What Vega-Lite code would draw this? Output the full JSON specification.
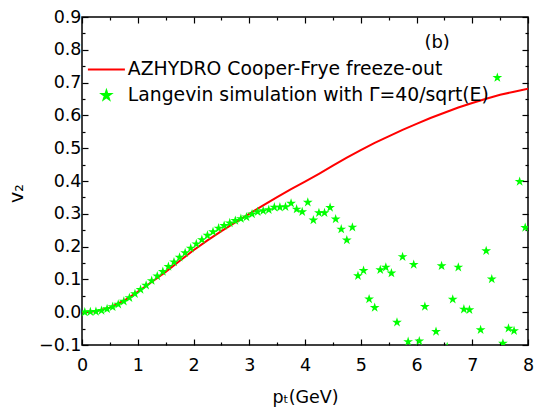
{
  "$schema": "https://vega.github.io/schema/vega-lite/v6.json",
  "width": 446,
  "height": 328,
  "autosize": {"type": "none"},
  "padding": {"left": 82, "top": 17, "right": 10, "bottom": 63},
  "background": "white",
  "config": {
    "view": {"stroke": "black", "strokeWidth": 1.5},
    "font": "DejaVu Sans",
    "axis": {"grid": false, "domain": false, "tickColor": "black", "labelColor": "black", "titleColor": "black", "labelFont": "DejaVu Sans", "titleFont": "DejaVu Sans", "titleFontWeight": "normal", "tickWidth": 1.2}
  },
  "datasets": {
    "hydro": [
      {"pt": 0, "v2": 0, "series": "AZHYDRO Cooper-Frye freeze-out"},
      {"pt": 0.25, "v2": 0.003, "series": "AZHYDRO Cooper-Frye freeze-out"},
      {"pt": 0.5, "v2": 0.014, "series": "AZHYDRO Cooper-Frye freeze-out"},
      {"pt": 0.75, "v2": 0.035, "series": "AZHYDRO Cooper-Frye freeze-out"},
      {"pt": 1, "v2": 0.062, "series": "AZHYDRO Cooper-Frye freeze-out"},
      {"pt": 1.25, "v2": 0.092, "series": "AZHYDRO Cooper-Frye freeze-out"},
      {"pt": 1.5, "v2": 0.123, "series": "AZHYDRO Cooper-Frye freeze-out"},
      {"pt": 1.75, "v2": 0.156, "series": "AZHYDRO Cooper-Frye freeze-out"},
      {"pt": 2, "v2": 0.189, "series": "AZHYDRO Cooper-Frye freeze-out"},
      {"pt": 2.25, "v2": 0.219, "series": "AZHYDRO Cooper-Frye freeze-out"},
      {"pt": 2.5, "v2": 0.247, "series": "AZHYDRO Cooper-Frye freeze-out"},
      {"pt": 2.75, "v2": 0.274, "series": "AZHYDRO Cooper-Frye freeze-out"},
      {"pt": 3, "v2": 0.3, "series": "AZHYDRO Cooper-Frye freeze-out"},
      {"pt": 3.25, "v2": 0.326, "series": "AZHYDRO Cooper-Frye freeze-out"},
      {"pt": 3.5, "v2": 0.351, "series": "AZHYDRO Cooper-Frye freeze-out"},
      {"pt": 3.75, "v2": 0.375, "series": "AZHYDRO Cooper-Frye freeze-out"},
      {"pt": 4, "v2": 0.398, "series": "AZHYDRO Cooper-Frye freeze-out"},
      {"pt": 4.25, "v2": 0.422, "series": "AZHYDRO Cooper-Frye freeze-out"},
      {"pt": 4.5, "v2": 0.447, "series": "AZHYDRO Cooper-Frye freeze-out"},
      {"pt": 4.75, "v2": 0.471, "series": "AZHYDRO Cooper-Frye freeze-out"},
      {"pt": 5, "v2": 0.494, "series": "AZHYDRO Cooper-Frye freeze-out"},
      {"pt": 5.25, "v2": 0.516, "series": "AZHYDRO Cooper-Frye freeze-out"},
      {"pt": 5.5, "v2": 0.536, "series": "AZHYDRO Cooper-Frye freeze-out"},
      {"pt": 5.75, "v2": 0.556, "series": "AZHYDRO Cooper-Frye freeze-out"},
      {"pt": 6, "v2": 0.574, "series": "AZHYDRO Cooper-Frye freeze-out"},
      {"pt": 6.25, "v2": 0.592, "series": "AZHYDRO Cooper-Frye freeze-out"},
      {"pt": 6.5, "v2": 0.608, "series": "AZHYDRO Cooper-Frye freeze-out"},
      {"pt": 6.75, "v2": 0.624, "series": "AZHYDRO Cooper-Frye freeze-out"},
      {"pt": 7, "v2": 0.638, "series": "AZHYDRO Cooper-Frye freeze-out"},
      {"pt": 7.25, "v2": 0.651, "series": "AZHYDRO Cooper-Frye freeze-out"},
      {"pt": 7.5, "v2": 0.663, "series": "AZHYDRO Cooper-Frye freeze-out"},
      {"pt": 7.75, "v2": 0.672, "series": "AZHYDRO Cooper-Frye freeze-out"},
      {"pt": 8, "v2": 0.681, "series": "AZHYDRO Cooper-Frye freeze-out"}
    ],
    "langevin": [
      {"pt": 0.05, "v2": 0.0, "series": "Langevin simulation with Γ=40/sqrt(E)"},
      {"pt": 0.15, "v2": 0.001, "series": "Langevin simulation with Γ=40/sqrt(E)"},
      {"pt": 0.25, "v2": 0.002, "series": "Langevin simulation with Γ=40/sqrt(E)"},
      {"pt": 0.35, "v2": 0.005, "series": "Langevin simulation with Γ=40/sqrt(E)"},
      {"pt": 0.45, "v2": 0.01, "series": "Langevin simulation with Γ=40/sqrt(E)"},
      {"pt": 0.55, "v2": 0.016, "series": "Langevin simulation with Γ=40/sqrt(E)"},
      {"pt": 0.65, "v2": 0.024, "series": "Langevin simulation with Γ=40/sqrt(E)"},
      {"pt": 0.75, "v2": 0.033, "series": "Langevin simulation with Γ=40/sqrt(E)"},
      {"pt": 0.85, "v2": 0.044, "series": "Langevin simulation with Γ=40/sqrt(E)"},
      {"pt": 0.95, "v2": 0.056, "series": "Langevin simulation with Γ=40/sqrt(E)"},
      {"pt": 1.05, "v2": 0.069, "series": "Langevin simulation with Γ=40/sqrt(E)"},
      {"pt": 1.15, "v2": 0.082, "series": "Langevin simulation with Γ=40/sqrt(E)"},
      {"pt": 1.25, "v2": 0.096, "series": "Langevin simulation with Γ=40/sqrt(E)"},
      {"pt": 1.35, "v2": 0.11, "series": "Langevin simulation with Γ=40/sqrt(E)"},
      {"pt": 1.45, "v2": 0.124, "series": "Langevin simulation with Γ=40/sqrt(E)"},
      {"pt": 1.55, "v2": 0.139, "series": "Langevin simulation with Γ=40/sqrt(E)"},
      {"pt": 1.65, "v2": 0.153, "series": "Langevin simulation with Γ=40/sqrt(E)"},
      {"pt": 1.75, "v2": 0.167, "series": "Langevin simulation with Γ=40/sqrt(E)"},
      {"pt": 1.85, "v2": 0.181, "series": "Langevin simulation with Γ=40/sqrt(E)"},
      {"pt": 1.95, "v2": 0.195, "series": "Langevin simulation with Γ=40/sqrt(E)"},
      {"pt": 2.05, "v2": 0.208, "series": "Langevin simulation with Γ=40/sqrt(E)"},
      {"pt": 2.15, "v2": 0.221, "series": "Langevin simulation with Γ=40/sqrt(E)"},
      {"pt": 2.25, "v2": 0.234, "series": "Langevin simulation with Γ=40/sqrt(E)"},
      {"pt": 2.35, "v2": 0.245, "series": "Langevin simulation with Γ=40/sqrt(E)"},
      {"pt": 2.45, "v2": 0.256, "series": "Langevin simulation with Γ=40/sqrt(E)"},
      {"pt": 2.55, "v2": 0.264, "series": "Langevin simulation with Γ=40/sqrt(E)"},
      {"pt": 2.65, "v2": 0.272, "series": "Langevin simulation with Γ=40/sqrt(E)"},
      {"pt": 2.75, "v2": 0.279, "series": "Langevin simulation with Γ=40/sqrt(E)"},
      {"pt": 2.85, "v2": 0.285, "series": "Langevin simulation with Γ=40/sqrt(E)"},
      {"pt": 2.95, "v2": 0.29, "series": "Langevin simulation with Γ=40/sqrt(E)"},
      {"pt": 3.05, "v2": 0.299, "series": "Langevin simulation with Γ=40/sqrt(E)"},
      {"pt": 3.15, "v2": 0.306, "series": "Langevin simulation with Γ=40/sqrt(E)"},
      {"pt": 3.25, "v2": 0.309, "series": "Langevin simulation with Γ=40/sqrt(E)"},
      {"pt": 3.35, "v2": 0.312, "series": "Langevin simulation with Γ=40/sqrt(E)"},
      {"pt": 3.45, "v2": 0.32, "series": "Langevin simulation with Γ=40/sqrt(E)"},
      {"pt": 3.55, "v2": 0.32, "series": "Langevin simulation with Γ=40/sqrt(E)"},
      {"pt": 3.65, "v2": 0.321, "series": "Langevin simulation with Γ=40/sqrt(E)"},
      {"pt": 3.75, "v2": 0.332, "series": "Langevin simulation with Γ=40/sqrt(E)"},
      {"pt": 3.85, "v2": 0.314, "series": "Langevin simulation with Γ=40/sqrt(E)"},
      {"pt": 3.95, "v2": 0.306, "series": "Langevin simulation with Γ=40/sqrt(E)"},
      {"pt": 4.05, "v2": 0.335, "series": "Langevin simulation with Γ=40/sqrt(E)"},
      {"pt": 4.15, "v2": 0.281, "series": "Langevin simulation with Γ=40/sqrt(E)"},
      {"pt": 4.25, "v2": 0.303, "series": "Langevin simulation with Γ=40/sqrt(E)"},
      {"pt": 4.35, "v2": 0.303, "series": "Langevin simulation with Γ=40/sqrt(E)"},
      {"pt": 4.45, "v2": 0.319, "series": "Langevin simulation with Γ=40/sqrt(E)"},
      {"pt": 4.55, "v2": 0.284, "series": "Langevin simulation with Γ=40/sqrt(E)"},
      {"pt": 4.65, "v2": 0.253, "series": "Langevin simulation with Γ=40/sqrt(E)"},
      {"pt": 4.75, "v2": 0.22, "series": "Langevin simulation with Γ=40/sqrt(E)"},
      {"pt": 4.85, "v2": 0.259, "series": "Langevin simulation with Γ=40/sqrt(E)"},
      {"pt": 4.95, "v2": 0.111, "series": "Langevin simulation with Γ=40/sqrt(E)"},
      {"pt": 5.05, "v2": 0.127, "series": "Langevin simulation with Γ=40/sqrt(E)"},
      {"pt": 5.15, "v2": 0.04, "series": "Langevin simulation with Γ=40/sqrt(E)"},
      {"pt": 5.25, "v2": 0.014, "series": "Langevin simulation with Γ=40/sqrt(E)"},
      {"pt": 5.35, "v2": 0.129, "series": "Langevin simulation with Γ=40/sqrt(E)"},
      {"pt": 5.45, "v2": 0.137, "series": "Langevin simulation with Γ=40/sqrt(E)"},
      {"pt": 5.55, "v2": 0.119, "series": "Langevin simulation with Γ=40/sqrt(E)"},
      {"pt": 5.65, "v2": -0.031, "series": "Langevin simulation with Γ=40/sqrt(E)"},
      {"pt": 5.75, "v2": 0.169, "series": "Langevin simulation with Γ=40/sqrt(E)"},
      {"pt": 5.85, "v2": -0.09, "series": "Langevin simulation with Γ=40/sqrt(E)"},
      {"pt": 5.95, "v2": 0.145, "series": "Langevin simulation with Γ=40/sqrt(E)"},
      {"pt": 6.05, "v2": -0.088, "series": "Langevin simulation with Γ=40/sqrt(E)"},
      {"pt": 6.15, "v2": 0.017, "series": "Langevin simulation with Γ=40/sqrt(E)"},
      {"pt": 6.35, "v2": -0.059, "series": "Langevin simulation with Γ=40/sqrt(E)"},
      {"pt": 6.45, "v2": 0.141, "series": "Langevin simulation with Γ=40/sqrt(E)"},
      {"pt": 6.55, "v2": -0.106, "series": "Langevin simulation with Γ=40/sqrt(E)"},
      {"pt": 6.65, "v2": 0.039, "series": "Langevin simulation with Γ=40/sqrt(E)"},
      {"pt": 6.75, "v2": 0.137, "series": "Langevin simulation with Γ=40/sqrt(E)"},
      {"pt": 6.85, "v2": 0.009, "series": "Langevin simulation with Γ=40/sqrt(E)"},
      {"pt": 6.95, "v2": 0.007, "series": "Langevin simulation with Γ=40/sqrt(E)"},
      {"pt": 7.15, "v2": -0.054, "series": "Langevin simulation with Γ=40/sqrt(E)"},
      {"pt": 7.25, "v2": 0.187, "series": "Langevin simulation with Γ=40/sqrt(E)"},
      {"pt": 7.35, "v2": 0.101, "series": "Langevin simulation with Γ=40/sqrt(E)"},
      {"pt": 7.45, "v2": 0.715, "series": "Langevin simulation with Γ=40/sqrt(E)"},
      {"pt": 7.55, "v2": -0.095, "series": "Langevin simulation with Γ=40/sqrt(E)"},
      {"pt": 7.65, "v2": -0.049, "series": "Langevin simulation with Γ=40/sqrt(E)"},
      {"pt": 7.75, "v2": -0.057, "series": "Langevin simulation with Γ=40/sqrt(E)"},
      {"pt": 7.85, "v2": 0.398, "series": "Langevin simulation with Γ=40/sqrt(E)"},
      {"pt": 7.95, "v2": 0.258, "series": "Langevin simulation with Γ=40/sqrt(E)"}
    ],
    "label": [{"pt": 6.37, "v2": 0.82, "text": "(b)"}]
  },
  "layer": [
    {
      "data": {"name": "hydro"},
      "mark": {"type": "line", "strokeWidth": 2, "clip": true},
      "encoding": {
        "x": {"field": "pt", "type": "quantitative", "scale": {"domain": [0, 8], "nice": false, "zero": false},
          "axis": {"orient": "bottom", "values": [0,1,2,3,4,5,6,7,8], "tickSize": -6, "labelPadding": 17, "labelFontSize": 17.5, "title": "pₜ(GeV)", "titleFontSize": 17.5, "titlePadding": 15, "labelFlush": false}},
        "y": {"field": "v2", "type": "quantitative", "scale": {"domain": [-0.1, 0.9], "nice": false, "zero": false},
          "axis": {"orient": "left", "values": [-0.1,0,0.1,0.2,0.3,0.4,0.5,0.6,0.7,0.8,0.9], "format": ".1f", "tickSize": -6, "labelPadding": 7, "labelFontSize": 17.5, "title": "v₂", "titleFontSize": 19, "titlePadding": 12, "titleY": 176, "labelFlush": false}},
        "color": {"field": "series", "type": "nominal",
          "scale": {"domain": ["AZHYDRO Cooper-Frye freeze-out", "Langevin simulation with Γ=40/sqrt(E)"], "range": ["#ff0000", "#00ff00"]},
          "legend": {"orient": "none", "legendX": 15, "legendY": 43, "title": null, "labelFontSize": 18.8, "labelFont": "DejaVu Sans", "labelLimit": 1000, "labelColor": "black", "symbolSize": 1369, "symbolStrokeWidth": 2, "labelOffset": 12, "rowPadding": 6, "padding": 0,
            "encode": {"symbols": {"update": {"stroke": {"scale": "color", "field": "value"}, "size": {"signal": "datum.value == 'AZHYDRO Cooper-Frye freeze-out' ? 1369 : 80"}}}}}
        }
      }
    },
    {
      "data": {"name": "langevin"},
      "mark": {"type": "point", "filled": true, "opacity": 1, "size": 105, "clip": true},
      "encoding": {
        "x": {"field": "pt", "type": "quantitative",
          "axis": {"orient": "bottom", "values": [0.5,1.5,2.5,3.5,4.5,5.5,6.5,7.5], "tickSize": -3, "labels": false, "title": null}},
        "y": {"field": "v2", "type": "quantitative",
          "axis": {"orient": "left", "values": [-0.05,0.05,0.15,0.25,0.35,0.45,0.55,0.65,0.75,0.85], "tickSize": -3, "labels": false, "title": null}},
        "color": {"field": "series", "type": "nominal"},
        "shape": {"field": "series", "type": "nominal",
          "scale": {"domain": ["AZHYDRO Cooper-Frye freeze-out", "Langevin simulation with Γ=40/sqrt(E)"], "range": ["stroke", "M0,-1L0.2245,-0.309L0.9511,-0.309L0.3633,0.118L0.5878,0.809L0,0.382L-0.5878,0.809L-0.3633,0.118L-0.9511,-0.309L-0.2245,-0.309Z"]}}
      }
    },
    {
      "data": {"name": "label"},
      "mark": {"type": "text", "fontSize": 18, "font": "DejaVu Sans", "color": "black"},
      "encoding": {
        "x": {"field": "pt", "type": "quantitative",
          "axis": {"orient": "top", "values": [0,1,2,3,4,5,6,7,8], "tickSize": -6, "labels": false, "title": null}},
        "y": {"field": "v2", "type": "quantitative",
          "axis": {"orient": "right", "values": [-0.1,0,0.1,0.2,0.3,0.4,0.5,0.6,0.7,0.8,0.9], "tickSize": -6, "labels": false, "title": null}},
        "text": {"field": "text"}
      }
    },
    {
      "data": {"name": "label"},
      "mark": {"type": "point", "opacity": 0},
      "encoding": {
        "x": {"field": "pt", "type": "quantitative",
          "axis": {"orient": "top", "values": [0.5,1.5,2.5,3.5,4.5,5.5,6.5,7.5], "tickSize": -3, "labels": false, "title": null}},
        "y": {"field": "v2", "type": "quantitative",
          "axis": {"orient": "right", "values": [-0.05,0.05,0.15,0.25,0.35,0.45,0.55,0.65,0.75,0.85], "tickSize": -3, "labels": false, "title": null}}
      }
    }
  ],
  "resolve": {"axis": {"x": "independent", "y": "independent"}}
}
